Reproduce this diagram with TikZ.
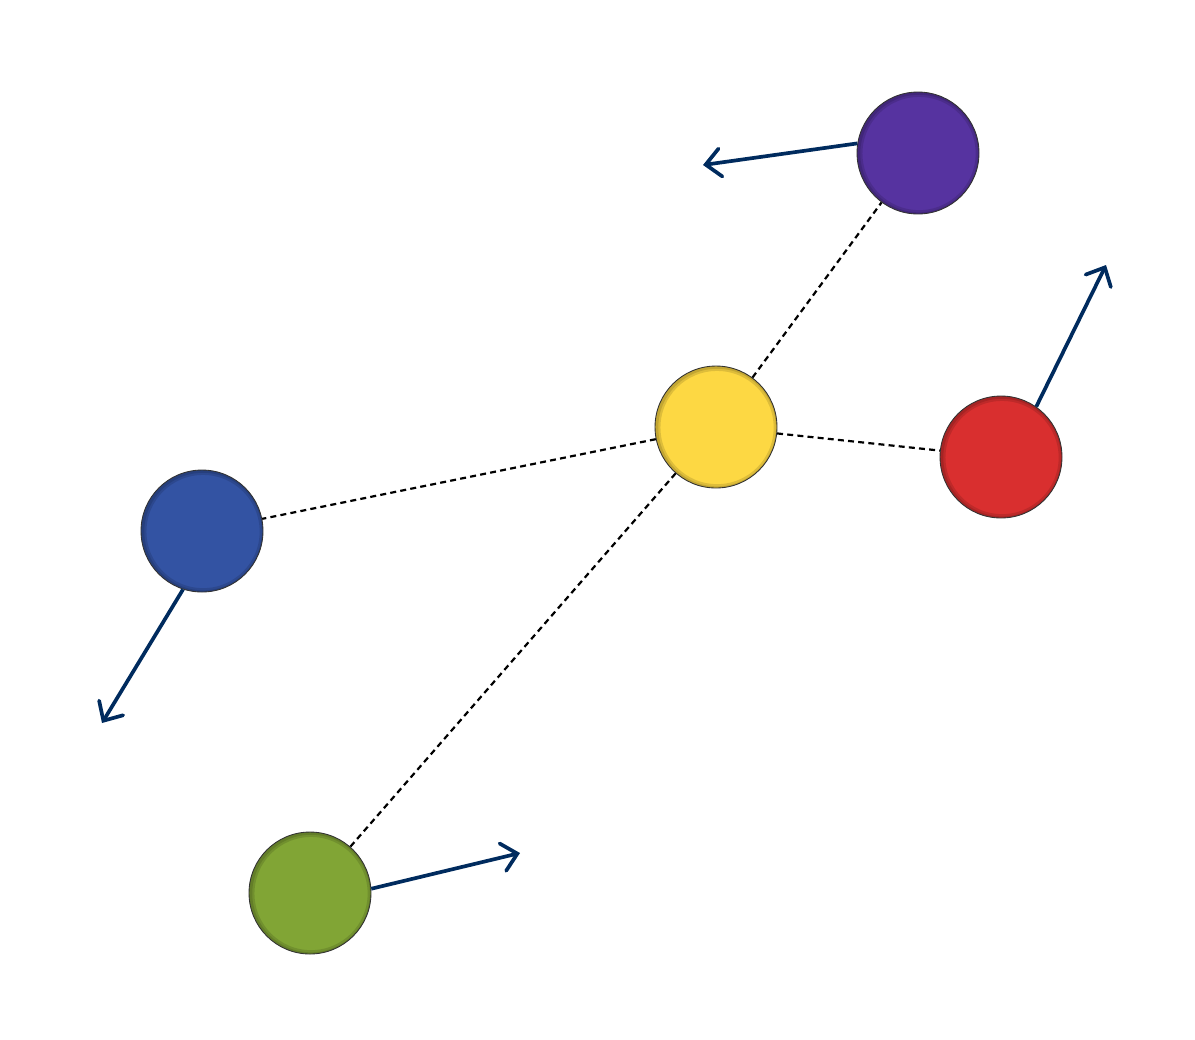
\documentclass[tikz,border=0pt]{standalone}
\usepackage{tikz}
\usetikzlibrary{arrows.meta}

\definecolor{violetball}{HTML}{5633A0}
\definecolor{yellowball}{HTML}{FDD843}
\definecolor{redball}{HTML}{D92F2F}
\definecolor{blueball}{HTML}{3353A3}
\definecolor{greenball}{HTML}{81A535}
\definecolor{navy}{HTML}{002B5E}

\begin{document}
\begin{tikzpicture}[x=0.02cm,y=-0.02cm,>={Straight Barb[length=8.5pt,width=16pt,line cap=round]},
	ball/.style={circle,draw=black!80,line width=0.5pt,minimum size=2.44cm,inner sep=0pt,
		path picture={\draw[black,opacity=0.12,line width=5pt] ([xshift=0.6pt,yshift=-0.3pt]path picture bounding box.center) circle (1.22cm);
			\draw[black,opacity=0.12,line width=2.5pt] ([xshift=0.6pt,yshift=-0.3pt]path picture bounding box.center) circle (1.22cm);}},
	link/.style={draw=black,line width=1.25pt,dash pattern=on 3.4pt off 2.4pt},
	speed/.style={->,draw=navy,line width=2.1pt}]
	
	\useasboundingbox (0,0) rectangle (1195,1039);
	
	\node[ball,fill=yellowball] at (716,427) (1) {};
	\node[ball,fill=violetball] at (918,153) (2) {};
	\node[ball,fill=redball] at (1001,457) (3) {};
	\node[ball,fill=blueball] at (202,531) (4) {};
	\node[ball,fill=greenball] at (310,893) (5) {};
	
	\coordinate (v2) at (703,165);
	\coordinate (v3) at (1106,265);
	\coordinate (v4) at (102,723);
	\coordinate (v5) at (520,853);
	
	\path
	(1) edge[link] (2)
	(1) edge[link] (3)
	(1) edge[link] (4)
	(1) edge[link] (5)
	;
	
	\path
	(2.171) edge[speed] (v2)
	(3.55) edge[speed] (v3)
	(4.252) edge[speed] (v4)
	(5.4) edge[speed] (v5)
	;
	
\end{tikzpicture}
\end{document}
